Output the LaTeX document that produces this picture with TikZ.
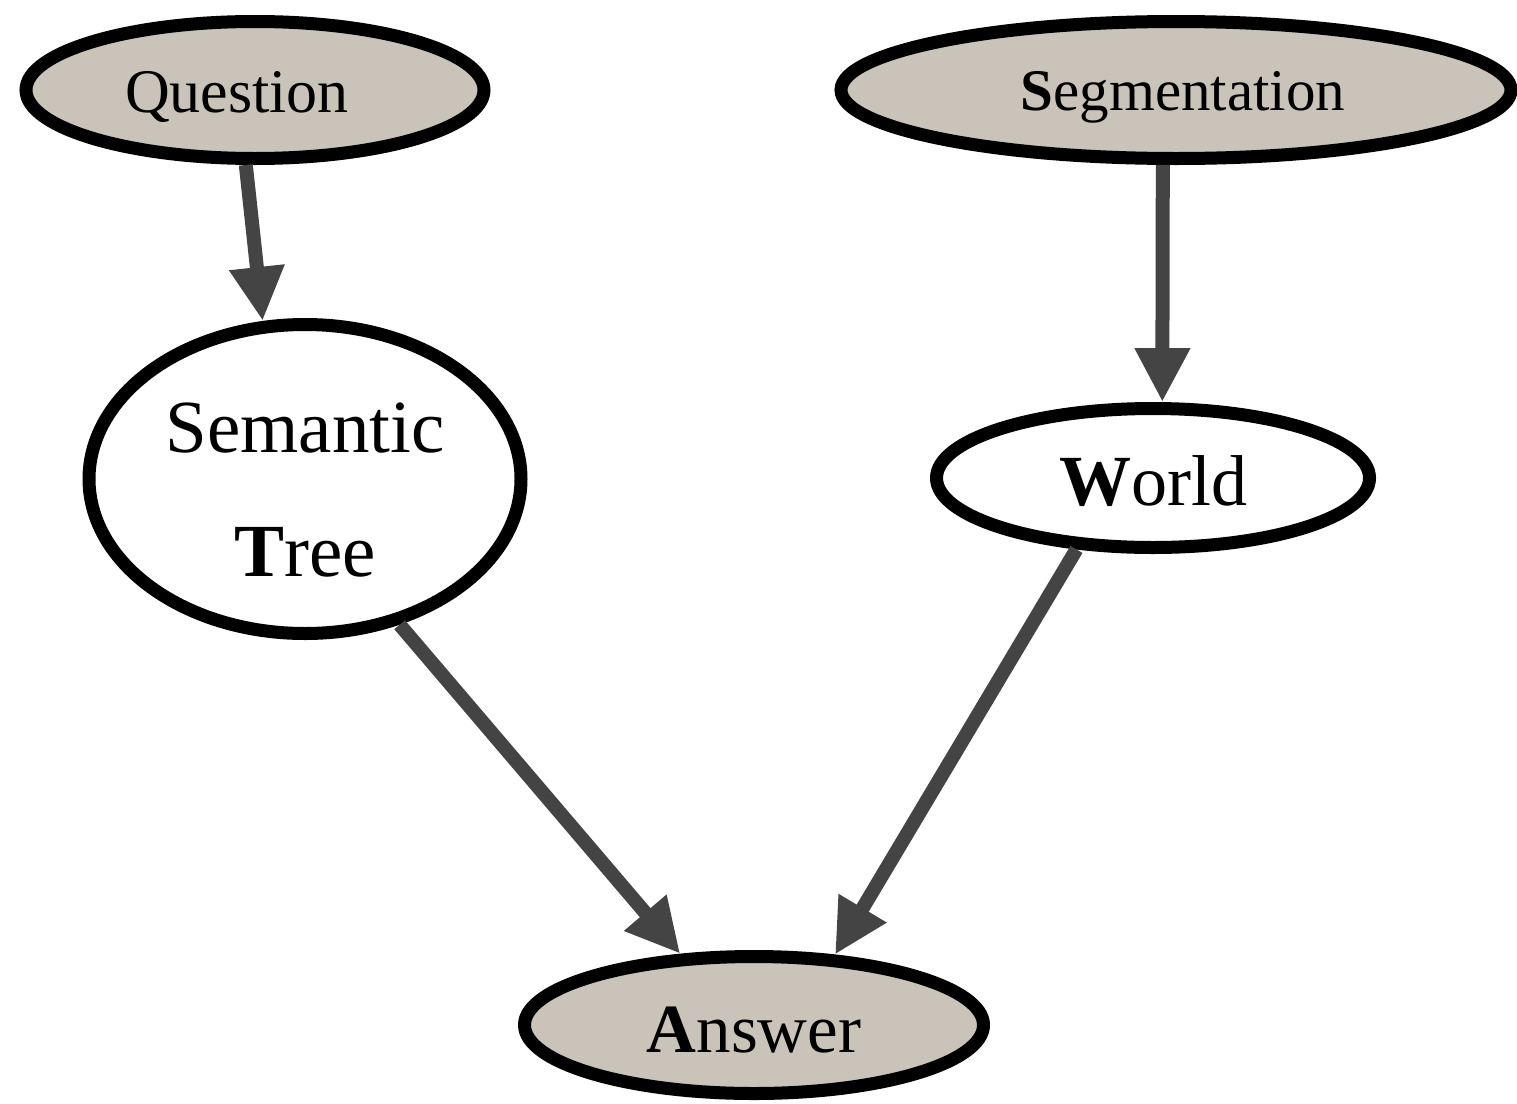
\documentclass[tikz,border=0pt]{standalone}
\usepackage{fontspec}
\setmainfont{Liberation Serif}
\usetikzlibrary{shapes.geometric,arrows.meta}
\definecolor{nodefill}{RGB}{201,195,185}
\definecolor{edgecol}{RGB}{68,68,68}
\tikzset{
  gnode/.style={ellipse, draw=black, line width=13pt, inner sep=0pt, outer sep=6.5pt, align=center},
  obs/.style={gnode, fill=nodefill},
  hid/.style={gnode, fill=white},
  conn/.style={draw=edgecol, line width=14pt, -{Triangle[length=54pt,width=52pt]}}
}
\begin{document}
\begin{tikzpicture}[x=1pt,y=-1pt]
\useasboundingbox (0,0) rectangle (1517,1103);
\node[obs, minimum width=458pt, minimum height=137pt, font=\fontsize{62}{74}\selectfont] (q) at (255,90) {\raisebox{-22pt}[0pt][0pt]{Question}\hspace{36pt}};
\node[obs, minimum width=670pt, minimum height=137pt, font=\fontsize{59}{70}\selectfont] (seg) at (1176,90) {\hspace{14pt}\raisebox{-20pt}[0pt][0pt]{\textbf{S}egmentation}};
\node[hid, minimum width=432pt, minimum height=309pt, font=\fontsize{75}{124}\selectfont] (st) at (305,479) {\rule{0pt}{71pt}Semantic\\\textbf{T}ree};
\node[hid, minimum width=433pt, minimum height=139pt, font=\fontsize{72}{86}\selectfont] (w) at (1153,478) {\raisebox{-27pt}[0pt][0pt]{\textbf{W}orld}};
\node[obs, minimum width=459pt, minimum height=137pt, font=\fontsize{69}{80}\selectfont] (a) at (754,1025) {\raisebox{-27pt}[0pt][0pt]{\textbf{A}nswer}};
\draw[conn] (q.-97) -- (st.105);
\draw[conn] (seg.-100) -- (w.83);
\draw[conn] (st.-57) -- (a.136);
\draw[conn] (w.-137) -- (a.41);
\end{tikzpicture}
\end{document}
